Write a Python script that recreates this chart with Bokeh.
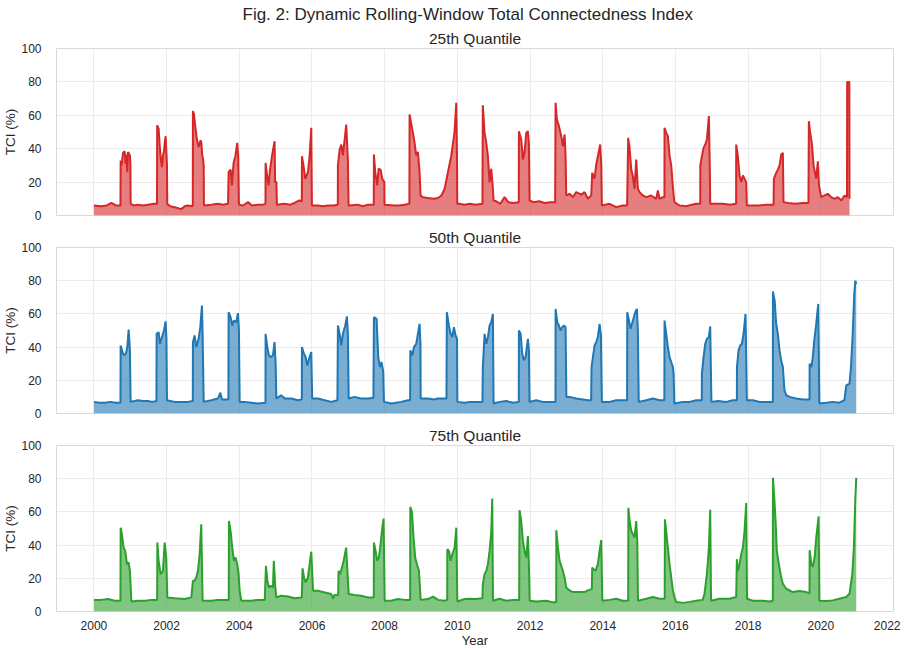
from bokeh.plotting import figure
from bokeh.layouts import column
from bokeh.models import Title, FixedTicker, Range1d
from bokeh.embed import file_html
from bokeh.resources import INLINE

# ---------------- data ----------------
q25_year = [2000.00, 2000.20, 2000.35, 2000.48, 2000.60, 2000.73, 2000.735, 2000.76, 2000.80, 2000.845, 2000.87, 2000.89, 2000.918, 2000.935, 2000.955, 2000.99, 2001.005, 2001.01,
            2001.10, 2001.21, 2001.35, 2001.49, 2001.65, 2001.735, 2001.74, 2001.78, 2001.81, 2001.835, 2001.872, 2001.90, 2001.927, 2001.95, 2001.973, 2001.99, 2002.01, 2002.018,
            2002.10, 2002.22, 2002.30, 2002.40, 2002.50, 2002.58, 2002.70, 2002.72, 2002.724, 2002.75, 2002.79, 2002.83, 2002.88, 2002.935, 2002.953, 2002.98, 2003.0, 2003.02, 2003.027,
            2003.23, 2003.41, 2003.55, 2003.69, 2003.706, 2003.76, 2003.797, 2003.82, 2003.843, 2003.89, 2003.944, 2003.97, 2003.99,
            2004.10, 2004.24, 2004.35, 2004.51, 2004.65, 2004.72, 2004.723, 2004.77, 2004.806, 2004.843, 2004.898, 2004.971, 2004.985, 2005.02, 2005.035,
            2005.246, 2005.40, 2005.52, 2005.65, 2005.72, 2005.723, 2005.769, 2005.815, 2005.888, 2005.934, 2005.98, 2005.998,
            2006.16, 2006.30, 2006.44, 2006.60, 2006.71, 2006.713, 2006.76, 2006.805, 2006.85, 2006.896, 2006.942, 2006.988, 2007.006,
            2007.26, 2007.40, 2007.54, 2007.70, 2007.704, 2007.74, 2007.795, 2007.832, 2007.887, 2007.932, 2007.99, 2007.996,
            2008.27, 2008.40, 2008.55, 2008.68, 2008.685, 2008.73, 2008.776, 2008.822, 2008.868, 2008.914, 2008.96, 2008.987,
            2009.05, 2009.19, 2009.35, 2009.464, 2009.56, 2009.65, 2009.74, 2009.83, 2009.92, 2009.97, 2009.99, 2009.996,
            2010.05, 2010.20, 2010.336, 2010.50, 2010.69, 2010.70, 2010.749, 2010.795, 2010.84, 2010.886, 2010.932, 2010.978, 2010.996,
            2011.07, 2011.18, 2011.299, 2011.40, 2011.55, 2011.69, 2011.693, 2011.757, 2011.78, 2011.803, 2011.849, 2011.895, 2011.941, 2011.968, 2011.987,
            2012.10, 2012.25, 2012.40, 2012.55, 2012.69, 2012.702, 2012.739, 2012.794, 2012.858, 2012.904, 2012.95, 2012.977, 2012.995,
            2013.087, 2013.178, 2013.27, 2013.41, 2013.50, 2013.59, 2013.683, 2013.71, 2013.775, 2013.82, 2013.866, 2013.93, 2013.96, 2013.976,
            2014.187, 2014.37, 2014.55, 2014.67, 2014.70, 2014.738, 2014.784, 2014.83, 2014.875, 2014.921, 2014.967, 2015.013,
            2015.104, 2015.196, 2015.334, 2015.47, 2015.517, 2015.563, 2015.655, 2015.698, 2015.70, 2015.746, 2015.792, 2015.838, 2015.884, 2015.93, 2015.97,
            2016.113, 2016.30, 2016.45, 2016.572, 2016.682, 2016.685, 2016.728, 2016.774, 2016.82, 2016.865, 2016.92, 2016.948, 2016.957,
            2017.10, 2017.30, 2017.50, 2017.67, 2017.672, 2017.718, 2017.764, 2017.81, 2017.856, 2017.901, 2017.947, 2017.965,
            2018.10, 2018.30, 2018.50, 2018.70, 2018.708, 2018.772, 2018.818, 2018.864, 2018.91, 2018.956, 2018.974,
            2019.10, 2019.30, 2019.50, 2019.66, 2019.671, 2019.708, 2019.754, 2019.80, 2019.873, 2019.919, 2019.95, 2020.01,
            2020.10, 2020.194, 2020.286, 2020.377, 2020.469, 2020.56, 2020.652, 2020.72, 2020.725, 2020.785, 2020.79]
q25_tci = [6, 5.5, 6, 7.5, 6, 6, 33, 30, 37.5, 38.5, 31, 36.5, 26, 38, 37.5, 36, 30, 7,
           6, 6.5, 6, 6.5, 7, 7, 54, 52, 42, 35, 29, 36, 38.5, 44, 47.5, 40, 30, 7,
           5.5, 5, 4.5, 3.8, 5.5, 6, 5.5, 6, 62.5, 61, 53, 46, 41, 45, 44, 36, 34, 30, 6,
           6.5, 7, 6.5, 7, 26, 27.5, 18, 25, 31.5, 35.5, 43.5, 35, 6.5,
           6, 8, 6, 6.5, 6.5, 7, 31.5, 23, 18, 27, 35.5, 44.5, 20, 20, 6.5,
           7, 6.5, 7.5, 9, 8.5, 35.5, 29.5, 22, 26, 35.5, 52.5, 6,
           6, 5.5, 6, 6, 6.5, 30, 39.5, 42.5, 36, 45, 54.5, 33, 6,
           6.5, 5.5, 6.5, 6.5, 36.5, 26, 18, 28, 27.5, 22, 20, 6.5,
           6, 6, 6.5, 7, 60.5, 55, 49.5, 43.5, 36, 38, 26, 12,
           11, 10.5, 10, 10.5, 12, 16, 26, 35.5, 49.5, 67.5, 35, 7,
           7, 6.5, 7, 6.5, 7, 66, 49.5, 43.5, 35.5, 20, 28, 16, 9,
           8.5, 7, 11, 8, 7.5, 8, 50.5, 45.5, 40, 33.5, 38, 49.5, 50.5, 43, 9,
           8, 8.5, 7.5, 8, 8, 67.5, 57.5, 53.5, 47.5, 41.5, 48.5, 36, 12,
           13, 11, 14, 12.5, 14, 10, 12, 25.5, 22, 30.5, 35.5, 42.5, 30, 6,
           7, 5, 6, 6, 46.5, 40.5, 27.5, 23.5, 16, 33.5, 16, 14,
           12, 11, 12, 10, 15, 10, 11, 11, 52.5, 49.5, 47.5, 36, 30, 17, 8,
           6, 5.5, 6.5, 7, 7, 30, 35.5, 40.5, 42.5, 45.5, 59.5, 25, 7,
           7, 7, 6.5, 7, 42.5, 35.5, 24, 20, 24, 22, 20, 6,
           6, 6, 6.5, 6.5, 22, 25.5, 27.5, 30, 36.5, 37.5, 8,
           7.5, 7, 7.5, 7.5, 56.5, 49.5, 43, 30, 22, 32.5, 18, 11,
           12, 13, 11, 10, 11, 9, 12, 11, 80, 80, 10]

q50_year = [2000.00, 2000.15, 2000.30, 2000.45, 2000.60, 2000.73, 2000.735, 2000.76, 2000.80, 2000.845, 2000.89, 2000.918, 2000.955, 2000.99, 2001.01,
            2001.21, 2001.35, 2001.49, 2001.60, 2001.72, 2001.725, 2001.78, 2001.817, 2001.872, 2001.927, 2001.973, 2001.995, 2002.01,
            2002.22, 2002.40, 2002.58, 2002.72, 2002.724, 2002.77, 2002.816, 2002.88, 2002.926, 2002.972, 2002.99, 2003.02,
            2003.23, 2003.41, 2003.48, 2003.52, 2003.70, 2003.706, 2003.76, 2003.806, 2003.852, 2003.916, 2003.962, 2003.99, 2004.01,
            2004.15, 2004.33, 2004.51, 2004.72, 2004.723, 2004.77, 2004.815, 2004.86, 2004.925, 2004.97, 2004.999, 2005.02,
            2005.15, 2005.25, 2005.43, 2005.61, 2005.72, 2005.723, 2005.778, 2005.824, 2005.87, 2005.934, 2005.98, 2006.005,
            2006.16, 2006.35, 2006.53, 2006.70, 2006.713, 2006.76, 2006.805, 2006.85, 2006.915, 2006.96, 2006.988, 2007.01,
            2007.17, 2007.35, 2007.54, 2007.69, 2007.704, 2007.777, 2007.823, 2007.869, 2007.915, 2007.96, 2007.98,
            2008.18, 2008.45, 2008.64, 2008.70, 2008.705, 2008.759, 2008.805, 2008.868, 2008.914, 2008.96, 2008.985, 2008.99,
            2009.19, 2009.37, 2009.46, 2009.70, 2009.71, 2009.767, 2009.813, 2009.859, 2009.905, 2009.95, 2009.99, 2010.0,
            2010.20, 2010.336, 2010.50, 2010.69, 2010.70, 2010.749, 2010.795, 2010.84, 2010.886, 2010.932, 2010.978, 2010.996,
            2011.16, 2011.345, 2011.53, 2011.69, 2011.693, 2011.74, 2011.785, 2011.83, 2011.876, 2011.941, 2011.968, 2011.987,
            2012.17, 2012.35, 2012.58, 2012.70, 2012.702, 2012.748, 2012.794, 2012.84, 2012.885, 2012.931, 2012.977, 2013.0,
            2013.087, 2013.27, 2013.45, 2013.59, 2013.68, 2013.692, 2013.73, 2013.775, 2013.82, 2013.866, 2013.912, 2013.95, 2013.976,
            2014.187, 2014.37, 2014.55, 2014.67, 2014.674, 2014.72, 2014.765, 2014.83, 2014.894, 2014.94, 2014.967, 2014.99,
            2015.196, 2015.38, 2015.563, 2015.695, 2015.70, 2015.746, 2015.792, 2015.838, 2015.884, 2015.93, 2015.95, 2015.97,
            2016.20, 2016.39, 2016.572, 2016.725, 2016.728, 2016.774, 2016.82, 2016.865, 2016.92, 2016.957, 2016.99,
            2017.17, 2017.40, 2017.58, 2017.69, 2017.693, 2017.737, 2017.782, 2017.828, 2017.874, 2017.929, 2017.965,
            2018.13, 2018.316, 2018.53, 2018.68, 2018.683, 2018.73, 2018.772, 2018.818, 2018.864, 2018.91, 2018.956, 2019.0,
            2019.05, 2019.14, 2019.32, 2019.51, 2019.65, 2019.69, 2019.692, 2019.74, 2019.78, 2019.82, 2019.864, 2019.93, 2019.96,
            2020.15, 2020.33, 2020.51, 2020.65, 2020.70, 2020.79, 2020.83, 2020.878, 2020.92, 2020.95, 2020.975]
q50_tci = [7, 6.5, 6.5, 7, 6.5, 6.5, 41, 39, 36, 35, 37, 40, 50.5, 38, 7,
           8, 7.5, 7.5, 7, 7.5, 48, 49, 42, 46, 50, 55.5, 45, 8,
           7, 7, 7, 7.5, 43, 47, 40, 45, 52, 65, 48, 7,
           8, 9, 12.5, 8.5, 8.5, 61, 58, 53, 56, 55, 60.5, 50, 7,
           7, 6.5, 6, 6.5, 48, 40, 35, 34, 35, 43, 30, 9,
           11, 9, 9, 8, 8.5, 40, 36, 34, 29, 34, 37, 9,
           9, 8, 7, 8, 53, 48, 41, 48, 53, 58.5, 48, 9,
           10, 9, 9, 9.5, 58, 57, 34, 28, 31, 25, 7,
           6, 7, 8, 8, 38, 35, 40, 42, 48, 54, 42, 9,
           9, 8.5, 9, 9, 61, 53, 48, 46, 52, 47, 45, 7,
           6.5, 7, 7, 7, 28, 48, 42, 46, 53, 55, 60, 6,
           7, 7.5, 6.5, 7, 50, 48, 36, 32, 34, 45, 38, 7,
           8, 7, 7, 7, 63, 55, 53, 50, 52, 53, 52, 10,
           10, 9, 8.5, 8, 8, 28, 34, 41, 43, 46, 54, 47, 7,
           7, 8, 8, 8, 61, 56, 51, 56, 61, 63, 50, 7,
           8, 9, 8, 8, 56, 48, 40, 34, 31, 28, 24, 6,
           7, 7, 8, 8, 24, 34, 42, 45, 46, 52.5, 7,
           7.5, 7, 8, 8, 28, 38, 41, 42, 48, 60, 8,
           8, 7, 7, 7, 73.5, 68, 54, 48, 38, 32, 28, 14,
           11, 10, 9, 8.5, 8.5, 8.5, 30, 28, 34, 44, 52, 66, 6,
           6.5, 7, 6.5, 8, 17, 18, 28, 48, 72, 80, 78]

q75_year = [2000.00, 2000.20, 2000.39, 2000.57, 2000.73, 2000.735, 2000.77, 2000.817, 2000.862, 2000.908, 2000.954, 2000.99, 2001.03,
            2001.21, 2001.40, 2001.58, 2001.74, 2001.745, 2001.78, 2001.835, 2001.899, 2001.945, 2001.99, 2002.02,
            2002.22, 2002.495, 2002.68, 2002.724, 2002.77, 2002.816, 2002.862, 2002.908, 2002.953, 2002.99,
            2003.23, 2003.41, 2003.60, 2003.71, 2003.715, 2003.76, 2003.806, 2003.852, 2003.897, 2003.943, 2003.98, 2004.01, 2004.055,
            2004.33, 2004.51, 2004.70, 2004.733, 2004.77, 2004.815, 2004.86, 2004.925, 2004.95, 2004.99, 2005.02,
            2005.155, 2005.34, 2005.52, 2005.72, 2005.74, 2005.78, 2005.824, 2005.888, 2005.934, 2005.98, 2006.03,
            2006.16, 2006.35, 2006.53, 2006.58, 2006.62, 2006.72, 2006.73, 2006.77, 2006.814, 2006.87, 2006.94, 2006.97, 2007.01,
            2007.17, 2007.35, 2007.54, 2007.70, 2007.704, 2007.75, 2007.795, 2007.84, 2007.887, 2007.924, 2007.97, 2008.0,
            2008.18, 2008.36, 2008.55, 2008.70, 2008.705, 2008.75, 2008.795, 2008.84, 2008.887, 2008.942, 2008.99,
            2009.19, 2009.33, 2009.47, 2009.65, 2009.72, 2009.724, 2009.77, 2009.814, 2009.86, 2009.924, 2009.97, 2010.0,
            2010.20, 2010.336, 2010.50, 2010.69, 2010.70, 2010.749, 2010.795, 2010.84, 2010.886, 2010.932, 2010.96, 2010.98,
            2011.16, 2011.345, 2011.53, 2011.70, 2011.71, 2011.757, 2011.803, 2011.849, 2011.895, 2011.941, 2011.968, 2011.99,
            2012.17, 2012.45, 2012.63, 2012.72, 2012.722, 2012.767, 2012.813, 2012.858, 2012.904, 2012.95, 2012.995,
            2013.087, 2013.178, 2013.36, 2013.50, 2013.59, 2013.70, 2013.71, 2013.747, 2013.80, 2013.866, 2013.912, 2013.958, 2013.99,
            2014.187, 2014.37, 2014.55, 2014.70, 2014.705, 2014.74, 2014.784, 2014.83, 2014.875, 2014.921, 2014.95, 2014.97,
            2015.196, 2015.38, 2015.563, 2015.705, 2015.71, 2015.746, 2015.792, 2015.838, 2015.884, 2015.93, 2015.975, 2016.02,
            2016.20, 2016.39, 2016.572, 2016.75, 2016.80, 2016.866, 2016.92, 2016.957, 2016.98,
            2017.21, 2017.49, 2017.672, 2017.69, 2017.718, 2017.764, 2017.81, 2017.856, 2017.901, 2017.947, 2017.97,
            2018.13, 2018.40, 2018.59, 2018.68, 2018.683, 2018.72, 2018.757, 2018.79, 2018.845, 2018.91, 2018.956,
            2019.05, 2019.23, 2019.41, 2019.60, 2019.69, 2019.692, 2019.74, 2019.78, 2019.83, 2019.873, 2019.94, 2019.96,
            2020.15, 2020.33, 2020.51, 2020.70, 2020.79, 2020.866, 2020.91, 2020.95, 2020.975]
q75_tci = [7, 7, 7.5, 6.5, 6.5, 50.5, 46.5, 38.5, 36.5, 28.5, 29.5, 24.5, 6,
           6.5, 6.5, 7, 7, 41.5, 30.5, 22.5, 24.5, 41.5, 32.5, 8.5,
           8, 7.5, 8.5, 18.5, 18.5, 20.5, 24.5, 34.5, 52.5, 6.5,
           6.5, 7, 7, 7, 54.5, 48.5, 38.5, 30.5, 32.5, 28.5, 22.5, 12.5, 6.5,
           6.5, 7, 7, 27.5, 18.5, 14.5, 15.5, 14.5, 30.5, 14.5, 8.5,
           9.5, 9, 8, 8.5, 26, 20.5, 17.5, 20.5, 28.5, 36, 12.5,
           12.5, 11.5, 10.5, 7.7, 10, 10, 24.5, 22.5, 25.5, 30.5, 38.5, 26, 10.5,
           10, 9.5, 8.5, 8.5, 41.5, 36.5, 30.5, 32.5, 40.5, 48.5, 56, 6.5,
           6.5, 7.5, 7, 7, 63, 60, 44.5, 32.5, 28.5, 24.5, 7,
           7.5, 9, 7, 6.5, 7, 37.5, 36.5, 30.5, 34.5, 38.5, 50.5, 6,
           7.5, 7.7, 7.5, 8, 16.5, 22.5, 24.5, 28.5, 36.5, 48, 68, 6.5,
           7.7, 6.5, 7, 7, 61, 54.5, 42.5, 36.5, 32.5, 45.5, 28.5, 6.5,
           6, 6.5, 5.5, 5.5, 49, 38.5, 30.5, 27.5, 24.5, 20.5, 14.5,
           12.7, 11.7, 11.7, 11.7, 12.7, 13.5, 26.5, 25.5, 24.5, 28.5, 36.5, 43, 6.5,
           7, 7.7, 6.5, 6.5, 62.5, 54.5, 48.5, 46.5, 44.5, 54.5, 42, 6.5,
           7.7, 8.7, 7.7, 7.7, 55.5, 48.5, 38.5, 28.5, 20.5, 12.7, 8.7, 5.8,
           5.2, 5.8, 6.5, 7, 10.7, 22.6, 38.5, 61.3, 6.5,
           7.7, 7.7, 8.7, 31.5, 24.6, 28.5, 34.5, 38.5, 48.4, 65.3, 7.7,
           6.5, 6.5, 6, 6.5, 80.5, 68.3, 54, 36.5, 28.6, 20.6, 16.7,
           13.7, 11.7, 12.3, 11.7, 11, 36.9, 28.6, 27, 32.5, 44.4, 57.3, 6.5,
           6.3, 6.7, 7.7, 8.7, 10.7, 22.6, 38.5, 68.3, 80.5]

subtitles = ["25th Quantile", "50th Quantile", "75th Quantile"]
main_title = "Fig. 2: Dynamic Rolling-Window Total Connectedness Index"
x_ticks = list(range(2000, 2023, 2))
y_ticks = [0, 20, 40, 60, 80, 100]
colors = ["#d62728", "#1f77b4", "#2ca02c"]

# ---------------- plotting ----------------
FONT = "Liberation Sans"
TXT = "#262626"
x_range = Range1d(1998.97, 2022.0)


def panel(years, tci, color, subtitle, fh, top=False, bottom=False):
    p = figure(frame_width=837, frame_height=fh, x_range=x_range, y_range=Range1d(0, 100),
               output_backend="svg", toolbar_location=None, title=None,
               min_border_left=49, min_border_right=7, min_border_top=0,
               min_border_bottom=(0 if bottom else 9), background_fill_color="white",
               border_fill_color="white")
    p.add_layout(Title(text=subtitle, align="center", text_font=FONT, text_font_size="15.5px",
                       text_font_style="normal", text_color=TXT, standoff=4), "above")
    if top:
        p.add_layout(Title(text=main_title, align="left", offset=186, text_font=FONT,
                           text_font_size="17px", text_font_style="normal", text_color=TXT,
                           standoff=4), "above")
    p.varea(x=years, y1=0, y2=tci, fill_color=color, fill_alpha=0.6)
    p.line(years, tci, line_color=color, line_width=2.0)

    p.outline_line_color = "#d9d9d9"
    p.xgrid.ticker = FixedTicker(ticks=x_ticks)
    p.ygrid.ticker = FixedTicker(ticks=y_ticks)
    p.grid.grid_line_color = "#ececec"
    p.grid.grid_line_width = 1

    p.yaxis.ticker = FixedTicker(ticks=y_ticks)
    p.yaxis.axis_label = "TCI (%)"
    p.xaxis.ticker = FixedTicker(ticks=x_ticks)
    for ax in p.axis:
        ax.axis_line_color = None
        ax.major_tick_line_color = None
        ax.minor_tick_line_color = None
        ax.major_label_text_font = FONT
        ax.major_label_text_font_size = "12px"
        ax.major_label_text_color = TXT
        ax.axis_label_text_font = FONT
        ax.axis_label_text_font_size = "13.5px"
        ax.axis_label_text_font_style = "normal"
        ax.axis_label_text_color = TXT
    p.yaxis.major_label_standoff = 9
    p.yaxis.axis_label_standoff = 0
    if bottom:
        p.xaxis.axis_label = "Year"
        p.xaxis.major_label_standoff = 3
        p.xaxis.axis_label_standoff = 0
        p.xaxis.axis_label_text_font_size = "13px"
    else:
        p.xaxis.visible = False
    return p


p1 = panel(q25_year, q25_tci, colors[0], subtitles[0], 167, top=True)
p2 = panel(q50_year, q50_tci, colors[1], subtitles[1], 166)
p3 = panel(q75_year, q75_tci, colors[2], subtitles[2], 166, bottom=True)

layout = column(p1, p2, p3, spacing=0)
open("out.html", "w").write(file_html(layout, INLINE))
